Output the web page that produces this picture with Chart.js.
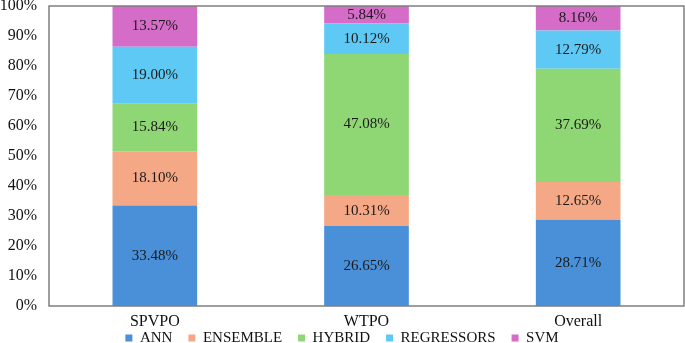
<!DOCTYPE html>
<html><head><meta charset="utf-8">
<script src="https://cdn.jsdelivr.net/npm/chart.js@4.4.1/dist/chart.umd.min.js"></script>
<style>html,body{margin:0;padding:0;background:#fff}#wrap{width:685px;height:343px}</style>
</head><body><div id="wrap"><canvas id="c"></canvas></div>
<script>
const categories = ["SPVPO", "WTPO", "Overall"];
const seriesNames = ["ANN", "ENSEMBLE", "HYBRID", "REGRESSORS", "SVM"];
const ann = [33.48, 26.65, 28.71];
const ensemble = [18.10, 10.31, 12.65];
const hybrid = [15.84, 47.08, 37.69];
const regressors = [19.00, 10.12, 12.79];
const svm = [13.57, 5.84, 8.16];
const yTicks = [0, 10, 20, 30, 40, 50, 60, 70, 80, 90, 100];

const colors = ["#4a90d9", "#f4a885", "#8fd774", "#5ec9f4", "#d46cc8"];
const seriesValues = [ann, ensemble, hybrid, regressors, svm];
const FONT = "'Liberation Serif', 'Times New Roman', serif";
const LEG_PAD = 16;

const labelPlugin = {
  id: 'segLabels',
  afterDatasetsDraw(chart) {
    const ctx = chart.ctx;
    ctx.save();
    ctx.font = "15px " + FONT;
    ctx.fillStyle = "#1a1a1a";
    ctx.textAlign = "center";
    ctx.textBaseline = "middle";
    chart.data.datasets.forEach((ds, i) => {
      const meta = chart.getDatasetMeta(i);
      meta.data.forEach((bar, j) => {
        const y = (bar.y + bar.base) / 2;
        ctx.fillText(ds.data[j].toFixed(2) + "%", bar.x, y);
      });
    });
    ctx.restore();
  }
};
const boxPlugin = {
  id: 'box',
  afterInit(chart) {
    const lg = chart.legend;
    if (lg) {
      const orig = lg.fit;
      lg.fit = function () { orig.call(this); this.height = 14; };
    }
  },
  beforeDraw(chart) {
    const lg = chart.legend;
    if (lg) { lg.top = chart.height - 12.5 - LEG_PAD; }
  },
  afterDraw(chart) {
    const a = chart.chartArea, ctx = chart.ctx;
    ctx.save();
    ctx.strokeStyle = "#7f7f7f";
    ctx.lineWidth = 1.5;
    ctx.strokeRect(a.left, a.top, a.right - a.left, a.bottom - a.top);
    ctx.restore();
  }
};

new Chart(document.getElementById('c'), {
  type: 'bar',
  data: {
    labels: categories,
    datasets: seriesNames.map((n, i) => ({
      label: n, data: seriesValues[i], backgroundColor: colors[i], borderWidth: 0,
      categoryPercentage: 1, barPercentage: 0.4
    }))
  },
  options: {
    responsive: true, maintainAspectRatio: false, animation: false,
    layout: { padding: { top: 0, right: 1, left: 0, bottom: 0 } },
    plugins: {
      legend: {
        position: 'bottom',
        labels: { font: { family: FONT, size: 15 }, color: "#111", boxWidth: 7, boxHeight: 7, padding: LEG_PAD }
      },
      tooltip: { enabled: false }
    },
    scales: {
      x: {
        stacked: true,
        grid: { display: false, drawTicks: false },
        border: { display: false },
        afterFit(s) { s.height = 23; },
        ticks: { font: { family: FONT, size: 16 }, color: "#111", padding: 6 }
      },
      y: {
        stacked: true, min: 0, max: 100,
        grid: { display: false, drawTicks: true, tickLength: 12 },
        border: { display: false },
        afterBuildTicks(s) { s.ticks = yTicks.map(v => ({ value: v })); },
        afterFit(s) { s.width = 49; },
        ticks: { font: { family: FONT, size: 16, lineHeight: 0.75 }, color: "#111", padding: 0, callback: v => v + "%" }
      }
    }
  },
  plugins: [labelPlugin, boxPlugin]
});
</script></body></html>
